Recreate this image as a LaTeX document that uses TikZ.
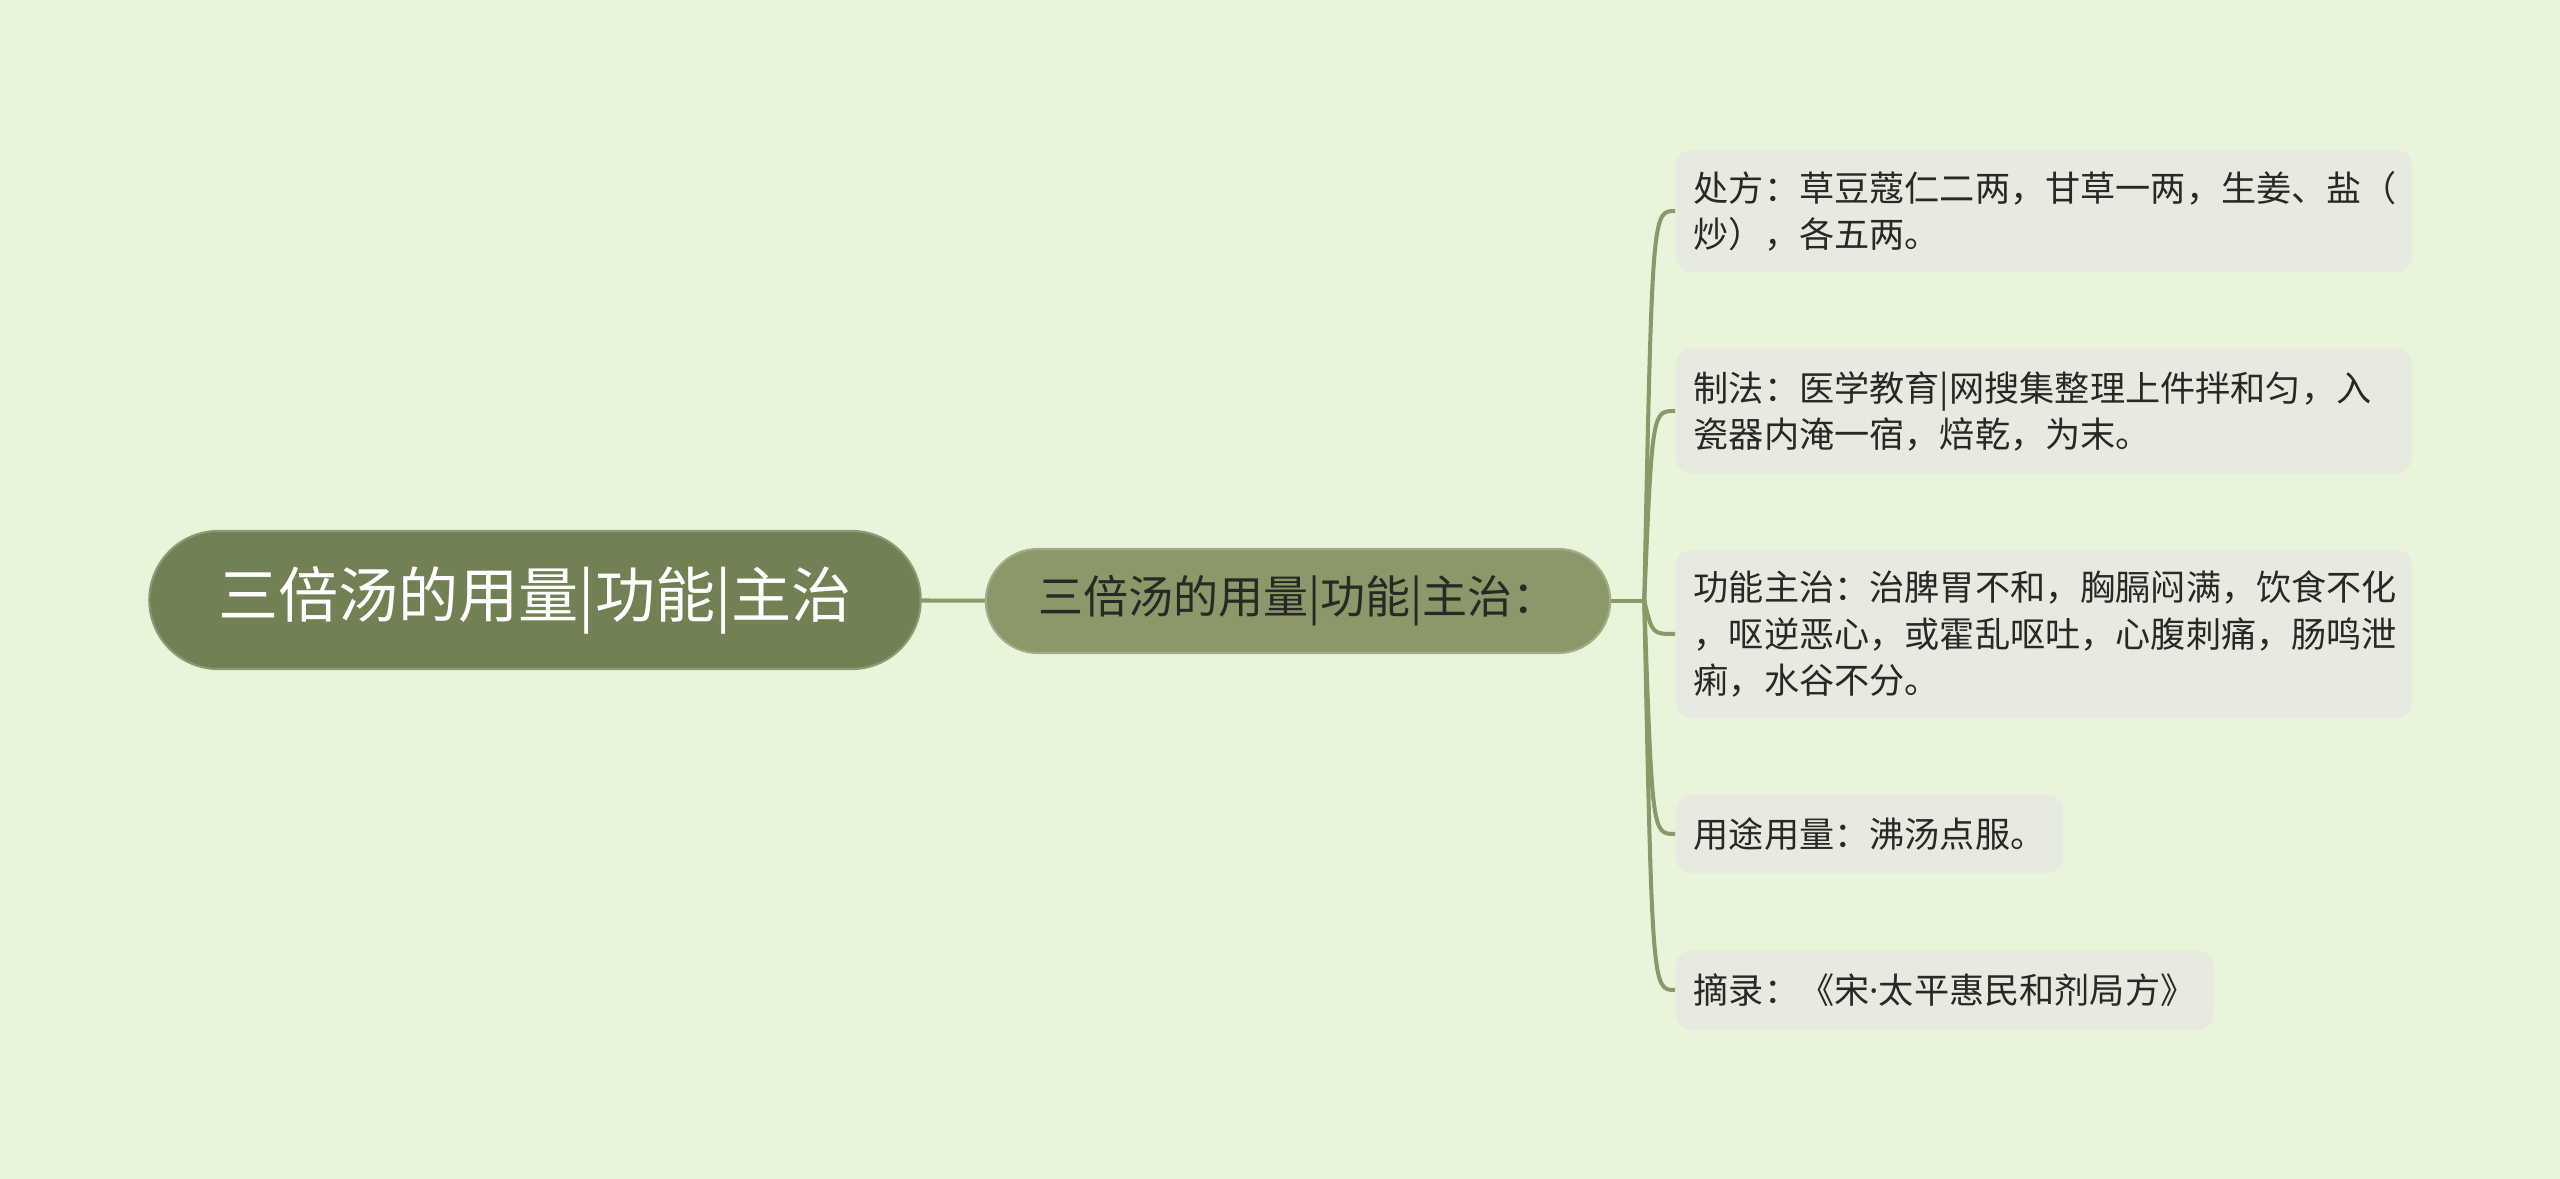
\documentclass[tikz,border=0pt]{standalone}
\usepackage{fontspec}
\setmainfont{Noto Sans CJK SC}
\newfontfamily\latinfont{Noto Sans}
\usepackage{xcolor}
\usetikzlibrary{positioning}
\definecolor{bgpale}{RGB}{232,245,218}
\definecolor{rootolive}{RGB}{113,129,83}
\definecolor{subolive}{RGB}{138,152,106}
\definecolor{leafgray}{RGB}{230,234,224}
\definecolor{inkdark}{RGB}{40,40,36}

\begin{document}
\begin{tikzpicture}[x=0.01cm, y=-0.01cm,
    rootnode/.style={fill=rootolive, draw=rootolive!80!white, line width=0.6pt, rounded corners=0.69cm, minimum width=7.71cm, minimum height=1.38cm, text=white, font=\fontsize{17.1pt}{21pt}\selectfont},
    subnode/.style={fill=subolive, draw=subolive!80!white, line width=0.6pt, rounded corners=0.52cm, minimum width=6.24cm, minimum height=1.04cm, text=inkdark, font=\fontsize{12.8pt}{16pt}\selectfont},
    leaf/.style={fill=leafgray, rounded corners=0.16cm, anchor=west, align=left, inner xsep=0.18cm, inner ysep=0pt, text=inkdark, font=\fontsize{10pt}{13.1pt}\selectfont},
    wideleaf/.style={leaf, text width=7cm},
    link/.style={draw=subolive, line width=1.15pt}
]
\fill[bgpale] (0,0) rectangle (2560,1179);

% centre and first branch
\node[rootnode] (root) at (535,600) {三倍汤的用量|功能|主治};
\node[subnode] (sub) at (1298,601) {三倍汤的用量|功能|主治：};
\draw[link] (root) -- (sub);

% leaves
\node[wideleaf, minimum height=1.22cm] (l1) at (1675,211) {处方：草豆蔻仁二两，甘草一两，生姜、盐（\\炒），各五两。};
\node[wideleaf, minimum height=1.25cm] (l2) at (1675,411) {制法：医学教育|网搜集整理上件拌和匀，入\\瓷器内淹一宿，焙乾，为末。};
\node[wideleaf, minimum height=1.68cm] (l3) at (1675,634) {功能主治：治脾胃不和，胸膈闷满，饮食不化\\，呕逆恶心，或霍乱呕吐，心腹刺痛，肠鸣泄\\痢，水谷不分。};
\node[leaf, minimum height=0.78cm] (l4) at (1675,834) {用途用量：沸汤点服。};
\node[leaf, minimum height=0.79cm] (l5) at (1675,990) {摘录：《宋{\latinfont ·}太平惠民和剂局方》};

% connectors
\coordinate[right=0.33cm of sub] (hub);
\coordinate[right=0.08cm of hub] (trunk);
\draw[link] (sub) -- (hub);
\foreach \leafname in {l1,l2,l3,l4,l5}
    \draw[link] (hub) .. controls (trunk |- \leafname.west) .. (\leafname.west);

\end{tikzpicture}
\end{document}
